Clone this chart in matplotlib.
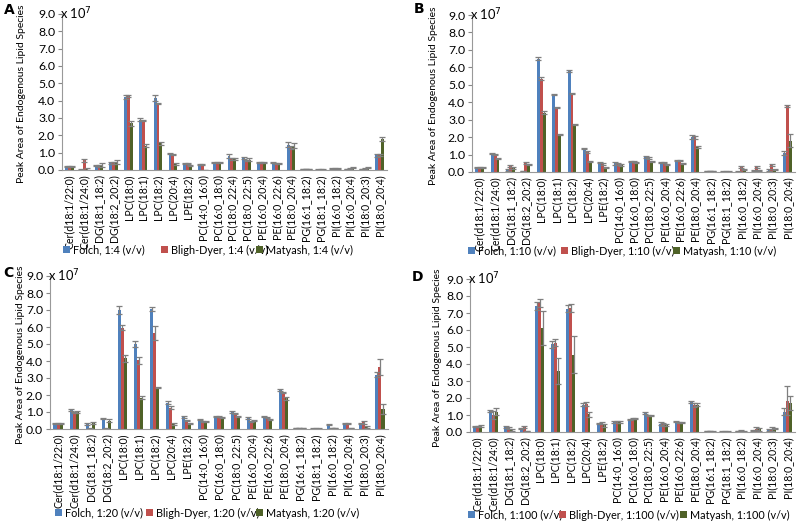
import matplotlib.pyplot as plt
import numpy as np

plt.rcParams['font.family'] = ['Lato', 'DejaVu Sans']

# categories (panel A has one extra species, PC(18:0_22:4))
cats_a = ['Cer(d18:1/22:0)', 'Cer(d18:1/24:0)', 'DG(18:1_18:2)', 'DG(18:2_20:2)',
          'LPC(18:0)', 'LPC(18:1)', 'LPC(18:2)', 'LPC(20:4)', 'LPE(18:2)',
          'PC(14:0_16:0)', 'PC(16:0_18:0)', 'PC(18:0_22:4)', 'PC(18:0_22:5)',
          'PE(16:0_20:4)', 'PE(16:0_22:6)', 'PE(18:0_20:4)', 'PG(16:1_18:2)',
          'PG(18:1_18:2)', 'PI(16:0_18:2)', 'PI(16:0_20:4)', 'PI(18:0_20:3)',
          'PI(18:0_20:4)']
cats_bcd = [c for c in cats_a if c != 'PC(18:0_22:4)']

# values in units of 1e7
a_folch = [0.2, 0.02, 0.25, 0.4, 4.2, 2.9, 4.15, 0.95, 0.35, 0.3, 0.45, 0.8, 0.7,
           0.45, 0.45, 1.45, 0.05, 0.02, 0.08, 0.05, 0.05, 0.85]
a_bligh = [0.2, 0.55, 0.25, 0.4, 4.25, 2.85, 3.85, 0.9, 0.35, 0.3, 0.45, 0.65, 0.55,
           0.45, 0.4, 1.3, 0.05, 0.02, 0.08, 0.08, 0.08, 0.85]
a_matya = [0.2, 0.05, 0.3, 0.45, 2.7, 1.4, 1.55, 0.35, 0.25, 0.01, 0.45, 0.65, 0.6,
           0.45, 0.4, 1.4, 0.05, 0.02, 0.08, 0.12, 0.15, 1.8]
a_folch_err = [0.03, 0.02, 0.03, 0.08, 0.12, 0.1, 0.15, 0.05, 0.03, 0.02, 0.03, 0.1,
               0.05, 0.03, 0.03, 0.15, 0.01, 0.01, 0.02, 0.02, 0.02, 0.08]
a_bligh_err = [0.03, 0.06, 0.05, 0.05, 0.05, 0.03, 0.03, 0.03, 0.03, 0.02, 0.03, 0.05,
               0.05, 0.03, 0.03, 0.1, 0.01, 0.01, 0.02, 0.02, 0.02, 0.05]
a_matya_err = [0.03, 0.05, 0.12, 0.1, 0.15, 0.1, 0.08, 0.05, 0.03, 0.01, 0.03, 0.05,
               0.08, 0.03, 0.03, 0.15, 0.01, 0.01, 0.02, 0.03, 0.05, 0.1]

b_folch = [0.25, 1.05, 0.12, 0.05, 6.5, 4.45, 5.8, 1.35, 0.55, 0.5, 0.6, 0.85, 0.55,
           0.65, 2.0, 0.05, 0.02, 0.02, 0.1, 0.1, 1.1]
b_bligh = [0.25, 1.0, 0.35, 0.5, 5.35, 3.7, 4.5, 1.15, 0.45, 0.45, 0.6, 0.8, 0.55,
           0.65, 2.0, 0.05, 0.02, 0.3, 0.3, 0.4, 3.8]
b_matya = [0.25, 0.8, 0.25, 0.45, 3.4, 2.15, 2.75, 0.6, 0.25, 0.4, 0.55, 0.6, 0.45,
           0.5, 1.45, 0.05, 0.02, 0.15, 0.08, 0.15, 1.8]
b_folch_err = [0.02, 0.03, 0.05, 0.02, 0.1, 0.03, 0.05, 0.05, 0.03, 0.08, 0.03, 0.05,
               0.03, 0.03, 0.1, 0.01, 0.01, 0.01, 0.03, 0.05, 0.12]
b_bligh_err = [0.03, 0.03, 0.05, 0.05, 0.08, 0.05, 0.05, 0.05, 0.05, 0.05, 0.03, 0.05,
               0.03, 0.03, 0.08, 0.01, 0.01, 0.05, 0.05, 0.05, 0.05]
b_matya_err = [0.02, 0.03, 0.05, 0.03, 0.1, 0.03, 0.03, 0.03, 0.03, 0.03, 0.03, 0.05,
               0.03, 0.03, 0.05, 0.01, 0.01, 0.05, 0.02, 0.05, 0.35]

c_folch = [0.3, 1.1, 0.3, 0.6, 7.0, 5.0, 7.05, 1.55, 0.7, 0.55, 0.75, 1.0, 0.65,
           0.75, 2.3, 0.05, 0.02, 0.25, 0.3, 0.35, 3.2]
c_bligh = [0.3, 0.95, 0.05, 0.05, 5.95, 4.05, 5.65, 1.25, 0.5, 0.45, 0.75, 0.9, 0.45,
           0.7, 2.15, 0.05, 0.02, 0.05, 0.35, 0.4, 3.65]
c_matya = [0.3, 1.0, 0.35, 0.5, 4.15, 1.85, 2.45, 0.3, 0.35, 0.45, 0.65, 0.75, 0.5,
           0.55, 1.8, 0.05, 0.02, 0.05, 0.05, 0.12, 1.2]
c_folch_err = [0.03, 0.05, 0.05, 0.03, 0.25, 0.2, 0.12, 0.08, 0.05, 0.03, 0.03, 0.03,
               0.05, 0.03, 0.08, 0.01, 0.01, 0.03, 0.03, 0.03, 0.15]
c_bligh_err = [0.03, 0.03, 0.03, 0.03, 0.15, 0.2, 0.4, 0.08, 0.05, 0.03, 0.03, 0.03,
               0.05, 0.03, 0.05, 0.01, 0.01, 0.02, 0.03, 0.1, 0.45]
c_matya_err = [0.03, 0.03, 0.08, 0.08, 0.2, 0.08, 0.05, 0.05, 0.03, 0.03, 0.03, 0.03,
               0.05, 0.03, 0.08, 0.01, 0.01, 0.02, 0.02, 0.05, 0.3]

d_folch = [0.35, 1.25, 0.3, 0.2, 7.4, 5.15, 7.25, 1.6, 0.5, 0.6, 0.75, 1.1, 0.5,
           0.6, 1.75, 0.05, 0.02, 0.05, 0.1, 0.1, 1.2]
d_bligh = [0.35, 1.0, 0.25, 0.3, 7.6, 5.25, 7.3, 1.65, 0.55, 0.6, 0.8, 0.95, 0.45,
           0.55, 1.6, 0.05, 0.02, 0.08, 0.2, 0.2, 1.85]
d_matya = [0.35, 1.2, 0.1, 0.05, 6.1, 3.6, 4.55, 1.05, 0.4, 0.6, 0.8, 0.95, 0.4,
           0.55, 1.6, 0.02, 0.02, 0.02, 0.15, 0.2, 1.7]
d_folch_err = [0.03, 0.05, 0.05, 0.05, 0.25, 0.2, 0.2, 0.08, 0.03, 0.05, 0.03, 0.05,
               0.08, 0.03, 0.05, 0.01, 0.01, 0.01, 0.03, 0.05, 0.2]
d_bligh_err = [0.03, 0.25, 0.05, 0.05, 0.25, 0.2, 0.25, 0.1, 0.05, 0.05, 0.03, 0.03,
               0.08, 0.03, 0.1, 0.01, 0.01, 0.02, 0.1, 0.12, 0.85]
d_matya_err = [0.05, 0.2, 0.05, 0.02, 1.0, 0.75, 1.1, 0.15, 0.1, 0.05, 0.03, 0.03,
               0.05, 0.03, 0.08, 0.01, 0.01, 0.01, 0.08, 0.05, 0.4]

ratios = ['1:4', '1:10', '1:20', '1:100']
methods = ['Folch', 'Bligh-Dyer', 'Matyash']
colors = ['#4F81BD', '#C0504D', '#4F6228']

FS_XT, FS_YT, FS_YL, FS_LEG = 7.6, 8.8, 7.5, 7.8

W, H = 800, 522
fig = plt.figure(figsize=(8, 5.22), dpi=100)


def fx(px):
    return px / W


def fy(py):
    return 1 - py / H


def draw_panel(rect, letter, letter_xy, ratio, cats, series, errors, ylab_x,
               leg_y, leg_x):
    x0, y0, x1, y1 = rect  # pixel coords: left, top(9.0), right, bottom(0.0)
    ax = fig.add_axes([fx(x0), fy(y1), fx(x1 - x0), (y1 - y0) / H])
    x = np.arange(len(cats))
    w = 0.19
    for i, (vals, errs) in enumerate(zip(series, errors)):
        bars = ax.bar(x + (i - 1) * w, vals, w, color=colors[i],
                      yerr=errs, ecolor='#7f7f7f', capsize=2.2,
                      error_kw=dict(elinewidth=0.9, capthick=0.9))
        fig.legend([bars.patches[0]], [f'{methods[i]}, {ratio} (v/v)'],
                   loc='center left', bbox_to_anchor=(fx(leg_x[i]), fy(leg_y)),
                   frameon=False, fontsize=FS_LEG, handlelength=0.6,
                   handleheight=0.6, handletextpad=0.35, borderaxespad=0,
                   borderpad=0)
    ax.set_xlim(-0.5, len(cats) - 0.5)
    ax.set_ylim(0, 9)
    ax.set_yticks(np.arange(0, 9.1, 1))
    ax.set_yticklabels([f'{v:.1f}' for v in np.arange(0, 9.1, 1)], fontsize=FS_YT)
    ax.set_xticks(x)
    ax.set_xticklabels(cats, rotation=90, fontsize=FS_XT)
    ax.tick_params(axis='x', length=0, pad=3)
    ax.tick_params(axis='y', length=3, color='#888888', pad=2)
    for s in ['top', 'right']:
        ax.spines[s].set_visible(False)
    for s in ['left', 'bottom']:
        ax.spines[s].set_color('#999999')
        ax.spines[s].set_linewidth(0.8)
    ax.text(-0.005, 1.0, 'x 10$^{7}$', transform=ax.transAxes, fontsize=FS_YT + 0.5,
            va='center', ha='left')
    fig.text(fx(ylab_x), fy((y0 + y1) / 2 + 2),
             'Peak Area of Endogenous Lipid Species', rotation=90,
             fontsize=FS_YL, ha='center', va='center')
    fig.text(fx(letter_xy[0]), fy(letter_xy[1]), letter, fontsize=10,
             fontweight='bold', ha='left', va='center', family='DejaVu Sans')
    return ax


draw_panel((62, 14, 387, 170), 'A', (4, 10), ratios[0], cats_a,
           [a_folch, a_bligh, a_matya], [a_folch_err, a_bligh_err, a_matya_err],
           22, 250, [63, 161, 256])
draw_panel((472, 15, 795, 172), 'B', (414, 9), ratios[1], cats_bcd,
           [b_folch, b_bligh, b_matya], [b_folch_err, b_bligh_err, b_matya_err],
           433, 251, [468, 561, 673])
draw_panel((50, 276, 388, 429), 'C', (3, 273), ratios[2], cats_bcd,
           [c_folch, c_bligh, c_matya], [c_folch_err, c_bligh_err, c_matya_err],
           21, 513, [55, 146, 256])
draw_panel((470, 279, 795, 432), 'D', (412, 277), ratios[3], cats_bcd,
           [d_folch, d_bligh, d_matya], [d_folch_err, d_bligh_err, d_matya_err],
           438, 515, [468, 559, 680])

fig.savefig('out.png', dpi=100)
